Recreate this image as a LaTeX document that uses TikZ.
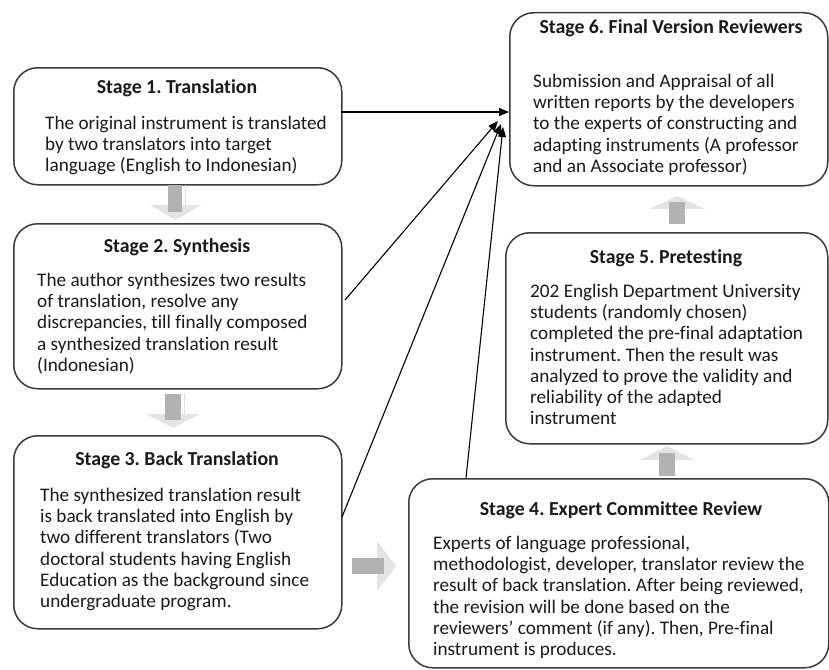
\documentclass[tikz,border=0pt]{standalone}
\usepackage{fontspec}
\setmainfont{Carlito}[Ligatures=NoCommon]
\usetikzlibrary{arrows.meta,calc}
\definecolor{boxgray}{HTML}{3A3A3A}
\definecolor{txtgray}{HTML}{1A1A1A}
\newcommand{\stagelines}[1]{\begin{tabular}[t]{@{}l@{}}#1\end{tabular}}
\tikzset{
 stagebox/.style={draw=boxgray, line width=1.5pt, rounded corners=24pt, inner sep=0pt, anchor=north west},
 ttl/.style={font=\bfseries\fontsize{19.8}{21}\selectfont, text=txtgray, anchor=base, inner sep=0pt},
 bodytxt/.style={font=\fontsize{19.2}{21.2}\selectfont, text=txtgray, anchor=base west, inner sep=0pt},
 conn/.style={line width=1.1pt, draw=black, -{Triangle[length=10pt,width=8pt]}},
 shaftfill/.style={fill=gray!60, draw=none},
 headfill/.style={fill=gray!22, draw=none},
}
\begin{document}
\frenchspacing
\begin{tikzpicture}[x=1pt,y=-1pt]
\useasboundingbox (0,0) rectangle (829,669);
\fill[white] (0,0) rectangle (829,669);

% boxes
\node[stagebox, minimum width=328pt, minimum height=117pt] (s1) at (13,67) {};
\node[stagebox, minimum width=328pt, minimum height=165pt] (s2) at (13,223) {};
\node[stagebox, minimum width=328pt, minimum height=193pt] (s3) at (13,435) {};
\node[stagebox, minimum width=420pt, minimum height=189pt] (s4) at (408,478) {};
\node[stagebox, minimum width=322pt, minimum height=211pt] (s5) at (505,232) {};
\node[stagebox, minimum width=318pt, minimum height=173pt] (s6) at (509,12) {};

% texts
\node[ttl] (t1) at (177,93.5) {Stage 1. Translation};
\node[bodytxt] (b1) at (45,129.5) {\stagelines{The original instrument is translated\\by two translators into target\\language (English to Indonesian)}};

\node[ttl] (t2) at (177,252.5) {Stage 2. Synthesis};
\node[bodytxt] (b2) at (37,286.5) {\stagelines{The author synthesizes two results\\of translation, resolve any\\discrepancies, till finally composed\\a synthesized translation result\\(Indonesian)}};

\node[ttl] (t3) at (177,465.5) {Stage 3. Back Translation};
\node[bodytxt] (b3) at (40,501.5) {\stagelines{The synthesized translation result\\is back translated into English by\\two different translators (Two\\doctoral students having English\\Education as the background since\\undergraduate program.}};

\node[ttl] (t4) at (621,515.5) {Stage 4. Expert Committee Review};
\node[bodytxt] (b4) at (433,549.5) {\stagelines{Experts of language professional,\\methodologist, developer, translator review the\\result of back translation. After being reviewed,\\the revision will be done based on the\\reviewers’ comment (if any). Then, Pre-final\\instrument is produces.}};

\node[ttl] (t5) at (666,263.5) {Stage 5. Pretesting};
\node[bodytxt] (b5) at (530,297.5) {\stagelines{202 English Department University\\students (randomly chosen)\\completed the pre-final adaptation\\instrument. Then the result was\\analyzed to prove the validity and\\reliability of the adapted\\instrument}};

\node[ttl] (t6) at (671,33.5) {Stage 6. Final Version Reviewers};
\node[bodytxt] (b6) at (533,87.5) {\stagelines{Submission and Appraisal of all\\written reports by the developers\\to the experts of constructing and\\adapting instruments (A professor\\and an Associate professor)}};

% connector end points
\coordinate (p1) at (341,112);
\coordinate (q1) at (509,112);
\coordinate (p2) at (345,300);
\coordinate (q2) at (498,121);
\coordinate (p3) at (342,517);
\coordinate (q3) at (501,124);
\coordinate (p4) at (466,478);
\coordinate (q4) at (503,127);
\draw[conn] (p1) -- (q1);
\draw[conn] (p2) -- (q2);
\draw[conn] (p3) -- (q3);
\draw[conn] (p4) -- (q4);

% block arrows
% 1 -> 2
\fill[headfill] (150,205) -- (201,205) -- (175.5,220) -- cycle;
\fill[shaftfill] (168,185) rectangle (182,212);
\draw[gray!25, line width=0.8pt] (185,185) -- (185,205);
% 2 -> 3
\fill[headfill] (146,414) -- (200,414) -- (173,428) -- cycle;
\fill[shaftfill] (165,394) rectangle (181,420);
\draw[gray!25, line width=0.8pt] (184,394) -- (184,414);
% 3 -> 4
\fill[headfill] (377,541) -- (396,566) -- (377,591) -- cycle;
\fill[shaftfill] (352,558) rectangle (384,574);
% 4 -> 5
\fill[headfill] (640,460) -- (694,460) -- (667,446) -- cycle;
\fill[shaftfill] (659,453) rectangle (675,476);
% 5 -> 6
\fill[headfill] (649,209) -- (705,209) -- (677,196) -- cycle;
\fill[shaftfill] (669,202) rectangle (685,224);
\end{tikzpicture}
\end{document}
